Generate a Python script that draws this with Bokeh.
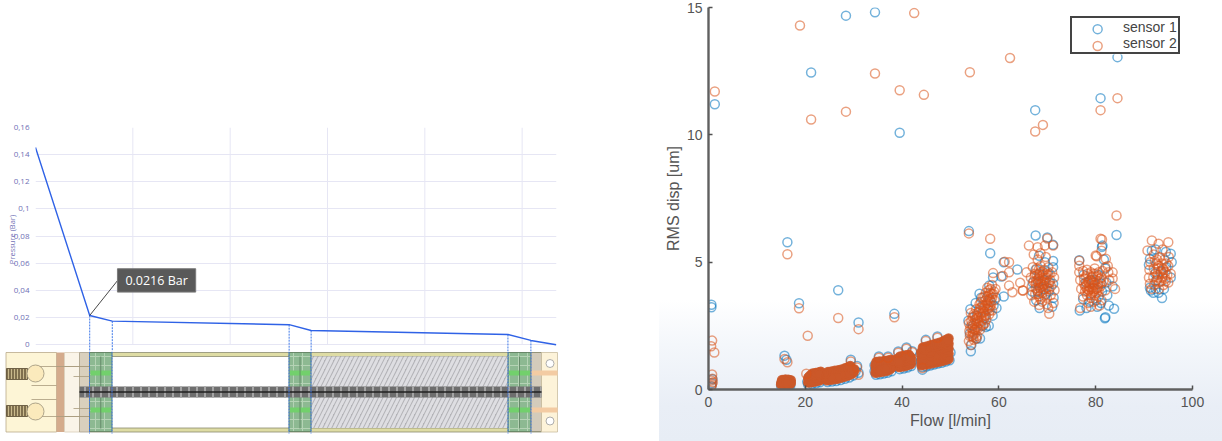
from bokeh.plotting import figure
from bokeh.layouts import row, column
from bokeh.models import Range1d, FixedTicker, Legend, LegendItem
from bokeh.core.properties import value
from bokeh.embed import file_html
from bokeh.resources import INLINE

# ---------- left chart: pressure along the element ----------
position = [0, 55.7, 78.9, 260.6, 283.2, 485.4, 509, 535]
pressure = [0.1453, 0.0216, 0.0174, 0.0148, 0.0105, 0.0076, 0.0032, 0.0]
pressure_ticks = [0, 0.02, 0.04, 0.06, 0.08, 0.1, 0.12, 0.14, 0.16]
pressure_labels = ["0", "0,02", "0,04", "0,06", "0,08", "0,1", "0,12", "0,14", "0,16"]
position_grid = [100, 200, 300, 400, 500]
callout_text = "0.0216 Bar"

# ---------- right chart: sensor readings (flow, disp) ----------
s1_out = [(1.3,11.2),(21.2,12.45),(28.4,14.68),(34.4,14.81),(39.5,10.08),(67.5,10.97),(81,11.44),(84.5,13.05),
          (16.3,5.78),(26.8,3.9),(18.7,3.39),(31,2.63),(38.4,2.97),(0.6,3.33),(0.6,3.23),(15.7,1.33),(16.1,1.17),
          (0.7,0.25),(0.6,0.12),(0.8,0.4),(53.8,6.22),(58.2,5.35),(61,5.0),(63.8,4.71),(60.5,4.44),(58.8,4.4),
          (61,3.65),(29.4,1.17),(30.7,0.92),(31,0.66),(35.2,1.3),(37.1,1.3),(39.2,1.49),(40.9,1.65),(42.1,1.5),
          (44.9,1.95),(47.3,2.08),(44.2,0.78),(84.3,6.07)]
s2_out = [(1.3,11.7),(18.9,14.29),(21.2,10.6),(28.4,10.91),(34.4,12.41),(39.5,11.75),(44.5,11.57),(42.5,14.78),
          (62.3,13.02),(54,12.46),(69.1,10.39),(67.5,10.13),(84.5,11.44),(81,10.97),(84.3,6.83),
          (16.3,5.31),(26.8,2.81),(18.7,3.19),(20.5,2.11),(31,2.37),(38.4,2.84),(0.75,1.92),(0.55,1.7),(1.2,1.45),
          (0.75,0.59),(0.6,0.35),(0.7,0.2),(0.9,0.28),(0.6,0.15),(0.8,0.42),(15.7,1.2),(16.3,1.07),(29.4,1.1),(30.7,0.86),(31,0.58),
          (20.2,0.62),(35.2,1.25),(37.1,1.25),(39.2,1.44),(40.9,1.6),(42.1,1.46),(44.9,1.9),(47.3,2.03),(44.2,0.84),
          (53.8,6.13),(58.2,5.92),(61.2,5.02),(62.1,5.0),(62.1,4.6),(58.8,4.57),(60.8,4.46),(62.1,4.08),(64.4,4.19),
          (62.8,3.82),(65,3.89)]

s2_a = [(15,.2),(15.6,.21),(16.2,.2),(16.9,.21),(15.1,.29),(15.7,.3),(16.3,.31),(16.9,.3),(15.2,.37),(15.9,.39),(16.5,.38),(17,.36),(15.5,.25),(16.6,.26),
        (15.3,.22),(15.9,.24),(16.5,.23),(15.4,.33),(16.1,.35),(16.7,.33),(15.9,.3),(15.1,.25),(17,.26),(16.2,.27)]
s1_a = [(15,.15),(15.8,.14),(16.6,.16),(15.1,.24),(16.9,.16)]
s2_b = [(20.6,.27),(21.2,.28),(21.8,.3),(22.4,.33),(23,.36),(20.7,.38),(21.3,.4),(21.9,.42),(22.5,.45),(23.1,.47),
        (20.8,.5),(21.4,.52),(22,.54),(22.6,.57),(23.2,.6),(21.5,.63),(22.1,.65),(22.7,.67),(23.2,.7),(20.6,.45),(21,.33),(22.2,.37),
        (20.9,.3),(21.5,.34),(22.7,.39),(23.2,.42),(21,.44),(21.6,.46),(22.2,.48),(22.8,.51),(23.3,.53),(21.1,.56),(21.7,.58),(22.3,.6),(22.9,.62)]
s1_b = [(20.6,.2),(21.4,.21),(22.2,.24),(23,.28),(20.4,.3),(23.3,.4)]
s2_c = [(24.5,.36),(25.2,.38),(25.9,.4),(26.6,.42),(27.3,.46),(28,.5),(28.7,.54),(29.4,.6),
        (24.6,.47),(25.3,.49),(26,.51),(26.7,.54),(27.4,.57),(28.1,.61),(28.8,.65),(29.5,.7),
        (24.5,.58),(25.2,.6),(25.9,.62),(26.6,.65),(27.3,.68),(28,.72),(28.7,.76),(29.4,.82),
        (24.7,.69),(25.4,.71),(26.1,.74),(26.8,.76),(27.5,.79),(28.2,.83),(28.9,.88),(29.3,.92),(30,.68),(30.1,.8),(24.9,.42),(26.3,.47),(27.7,.52),
        (25,.53),(25.7,.55),(26.4,.58),(27.1,.61),(27.8,.65),(28.5,.69),(29.2,.74),(24.8,.64),(25.5,.66),(26.2,.68),(26.9,.71),(27.6,.74),(28.3,.78),(29,.81),
        (25.6,.44),(27,.5),(28.4,.57),(29.1,.6),(29.8,.75)]
s1_c = [(24.6,.29),(25.5,.31),(26.4,.33),(27.3,.37),(28.2,.42),(29.1,.47),(29.9,.55),(30.4,.72),(24.3,.5)]
s2_d = [(34.5,.66),(35.1,.68),(35.7,.7),(36.3,.72),(36.9,.74),(37.4,.78),(34.6,.8),(35.2,.82),(35.8,.84),(36.4,.86),(37,.88),(37.5,.9),
        (34.5,.94),(35.1,.96),(35.7,.98),(36.3,1),(36.9,1.02),(37.4,1.04),(34.7,1.08),(35.3,1.1),(35.9,1.1),(36.5,1.12),(37.1,1.14),(37.6,1.16),
        (38,.95),(38.1,1.05),(34.9,.74),(36.1,.78),(37.2,.83),(34.8,.87),(35.4,.89),(36,.91),(36.6,.93),(37.2,.96),(37.8,.85),
        (34.7,1.0),(35.5,1.03),(36.1,1.05),(36.8,1.08),(37.8,1.1),(38.2,1.15),(35.5,.75),(36.7,.8)]
s1_d = [(34.6,.58),(35.4,.6),(36.2,.63),(37,.66),(37.8,.72),(34.3,.72),(34.3,.95),(38.4,.9)]
s2_e = [(39.4,.88),(40,.9),(40.6,.92),(41.2,.96),(41.8,1),(39.5,1.02),(40.1,1.04),(40.7,1.06),(41.3,1.1),(41.8,1.13),
        (39.4,1.16),(40,1.18),(40.6,1.2),(41.2,1.24),(41.8,1.26),(39.6,1.3),(40.2,1.32),(40.8,1.34),(41.4,1.36),(39.2,1.22),(40.4,.98),(41.5,1.05),
        (39.7,.95),(41,1.0),(39.8,1.09),(40.4,1.12),(41,1.15),(41.6,1.18),(39.7,1.23),(40.3,1.25),(40.9,1.27),(41.5,1.3),(39.3,1.08)]
s1_e = [(39.5,.8),(40.3,.82),(41.1,.86),(41.9,.92),(39.1,1.0),(42.1,1.12)]
s2_f = [(44,.95),(44.7,.98),(45.4,1),(46.1,1.03),(46.8,1.06),(47.5,1.09),(48.2,1.12),(48.9,1.16),(49.6,1.2),
        (44,1.13),(44.7,1.16),(45.4,1.19),(46.1,1.22),(46.8,1.25),(47.5,1.28),(48.2,1.32),(48.9,1.36),(49.6,1.4),
        (44,1.3),(44.7,1.33),(45.4,1.37),(46.1,1.4),(46.8,1.44),(47.5,1.47),(48.2,1.51),(48.9,1.55),(49.6,1.6),
        (44,1.47),(44.7,1.51),(45.4,1.55),(46.1,1.58),(46.8,1.62),(47.5,1.66),(48.2,1.7),(48.9,1.74),(49.6,1.8),
        (44.3,1.65),(44.9,1.68),(45.6,1.72),(46.3,1.76),(47,1.8),(47.7,1.84),(48.4,1.88),(49,1.94),(49.6,2.0),
        (45,1.08),(46.5,1.15),(48,1.22),(45.1,1.43),(47.2,1.55),(44.4,1.04),(45.8,1.1),(47.2,1.18),(48.6,1.26),(49.3,1.3),
        (44.4,1.22),(45.8,1.29),(47.2,1.36),(48.6,1.45),(49.3,1.5),(44.4,1.39),(45.8,1.47),(47.9,1.6),(48.6,1.65),(49.3,1.7),
        (44.6,1.58),(45.8,1.65),(46.6,1.7),(47.4,1.75),(48.1,1.79),(48.8,1.84),(49.4,1.9)]
s1_f = [(44.2,.88),(45,.9),(45.8,.94),(46.6,.98),(47.4,1.02),(48.2,1.05),(49,1.1),(49.8,1.15),(43.8,1.1),(43.8,1.4),(50,1.45)]
s2_g = [(53.8,1.9),(54.2,1.75),(54.4,2.1),(54.8,1.95),(53.9,2.3),(54.5,2.4),(55,2.2),(53.8,2.6),(54.3,2.7),(54.9,2.6),(55.4,2.45),(55.5,2.1),
        (54.2,3.0),(54.8,2.95),(55.4,2.8),(55.9,2.6),(56.1,2.35),(55.3,3.15),(55.9,3.05),(56.4,2.85),(56.8,2.55),(56,3.35),(56.6,3.3),(57,3.05),
        (57.4,2.75),(56.6,3.6),(57.2,3.5),(57.7,3.3),(58,2.95),(57.3,3.8),(57.9,3.7),(58.4,3.45),(58.6,3.1),(57.6,4.0),(58.3,3.95),(58.8,3.75),
        (59.1,3.5),(58.6,4.1),(59.3,3.95),(55.1,2.75),(56.3,3.2),(57.5,3.15),(58.1,3.25),(54.6,2.25),
        (54,2.1),(54.7,2.15),(55.2,2.35),(54.1,2.45),(54.6,2.85),(55.7,2.7),(56.3,2.5),(55.6,3.0),(56.2,2.95),(56.9,2.8),(57.1,2.6),(56.3,3.45),(56.9,3.2),(57.5,3.4),(58.1,3.1),(58,3.55),(58.6,3.6),(57.6,3.65),(58.2,3.8),(59,3.85),
        (54.4,2.55),(54.9,2.35),(55.3,2.6),(55,2.9),(55.7,2.4),(55.8,2.85),(56.5,2.7),(56.1,3.2),(56.7,3.0),(57.3,2.9),(57.2,3.3),(57.8,3.15),(57,3.65),(57.7,3.5),(58.3,3.3),(58.5,3.75),(57.9,3.9),(54.7,2.05),(55.3,2.0)]
s1_g = [(54.2,1.5),(54.3,1.75),(54,2.2),(53.7,2.7),(54.6,2.5),(55.4,2.0),(56.1,2.0),(55.5,2.9),(56.7,2.5),(57.3,2.45),(57.9,2.5),(57.2,2.9),
        (58.7,2.9),(58.9,3.3),(59.4,3.6),(58.2,3.5),(56.3,3.6),(55.2,3.4),(54.1,3.15),(56,3.76),(58,4.08),(59.5,3.2),(56.7,3.1),(55,2.35)]
s2_h = [(66.2,5.65),(68,5.59),(69.5,5.65),(70,5.93),(71.2,5.65),(69.7,5.2),(68,5.1),(64.9,3.89),(65.7,4.6),(70.4,2.97),(70.2,3.2),(68.3,3.32),(71.3,3.4),
        (67,4.8),(67.8,4.75),(68.6,4.85),(69.4,4.7),(70.2,4.8),(71,4.6),(66.6,4.4),(67.4,4.45),(68.2,4.35),(69,4.5),(69.8,4.4),(70.6,4.3),(71.4,4.4),
        (66.8,4.05),(67.6,4.15),(68.4,4.0),(69.2,4.1),(70,4.0),(70.8,4.05),(71.5,3.9),(66.7,3.7),(67.5,3.75),(68.3,3.65),(69.1,3.8),(69.9,3.6),(70.7,3.7),
        (67.3,3.45),(68.9,3.45),(69.9,3.35),(68.6,5.35),(67.2,5.3),
        (67.9,4.5),(68.5,4.6),(69.1,4.25),(68,4.3),(68.7,4.15),(69.5,4.2),(67.9,3.9),(68.7,3.85),(69.5,3.95),(70.3,4.2),(67.2,4.25),(68.2,4.7),(69.7,4.55),(68.6,3.55),
        (67.5,4.55),(68.4,4.48),(69.3,4.38),(70.1,4.5),(67.7,4.25),(68.5,4.25),(69,4.02),(69.8,4.15),(67.6,3.98),(68.3,4.1),(70.4,3.95),(68.1,3.75),(69.4,3.7),(69,4.62),(70.5,4.55)]
s1_h = [(67.6,6.05),(70,5.97),(71.2,5.68),(71.2,5.05),(71.2,4.8),(68.3,5.25),(69.5,5.0),(67.6,4.7),(68.4,4.55),(70.1,4.6),(67,4.2),(68.1,4.2),(69.4,4.3),
        (70.5,4.2),(71.2,4.15),(66.9,3.85),(68,3.85),(69.2,3.95),(70.3,3.85),(71.3,3.6),(67.7,3.5),(68.4,3.2),(71,3.25),(69.7,3.75)]
s2_i = [(81,5.92),(80.2,5.23),(76.6,5.06),(76.6,4.86),(81.3,5.89),(80,5.26),(82.1,5.13),(83.5,4.6),(83.5,4.36),(84,3.95),(82,4.8),(76.8,3.2),(79,3.25),(80.8,3.3),
        (76.6,4.6),(77.4,4.65),(78.2,4.7),(79,4.6),(79.8,4.75),(80.6,4.6),(81.4,4.65),(82.6,4.6),(76.8,4.3),(77.6,4.35),(78.4,4.25),(79.2,4.4),(80,4.3),(80.8,4.35),(81.6,4.25),(82.8,4.3),
        (77,3.95),(77.8,4.05),(78.6,3.9),(79.4,4.0),(80.2,3.95),(81,4.05),(82,3.9),(77.4,3.65),(78.2,3.7),(79,3.6),(79.8,3.7),(80.6,3.65),(81.2,3.5),(78.5,3.4),(79.7,3.45),(82.5,4.85),(81.2,5.45),
        (78,4.45),(78.8,4.3),(79.5,4.55),(80.3,4.45),(78,4.1),(78.9,4.15),(79.7,4.1),(80.5,4.15),(78.4,3.85),(79.3,3.8),(80.2,3.8),(77.8,3.85),(81.2,4.4),
        (78.3,4.55),(78.7,4.02),(79.2,4.2),(79.4,4.45),(79.9,3.95),(80.1,4.55),(78.2,3.95),(78.6,4.2),(79.1,3.95),(79.6,3.85),(80.4,4.0),(80.9,4.2),(77.6,4.15),(79,3.7),(80.6,3.9)]
s1_i = [(81.4,5.65),(81.3,5.6),(81.7,5.1),(76.6,5.08),(82,4.75),(76.7,3.1),(78.1,3.2),(80.3,3.25),(82,2.84),(81.9,2.8),(83.8,3.17),(83.5,4.05),(82.7,3.3),
        (77.4,3.55),(78.7,3.45),(80.1,3.5),(81.1,3.4),(82.4,3.7),(78,4.2),(79.6,4.2),(81.2,4.15),(77.5,4.5),(79.1,4.3),(80.5,4.5),(82.2,4.2),(81.3,3.85)]
s2_j = [(91.6,5.85),(93,5.72),(95,5.78),(90.7,5.46),(93.8,5.5),(92,5.3),(91.3,5.0),(92.2,5.05),(93.2,5.2),(94.2,5.1),(95.1,5.2),(91.1,4.7),(92,4.75),(93,4.85),(94,4.7),(95,4.85),
        (95.5,4.55),(91,4.4),(91.9,4.4),(92.8,4.5),(93.8,4.4),(94.8,4.5),(91.2,4.15),(92.1,4.1),(93.1,4.2),(94,4.1),(95,4.2),(91.5,3.95),(93.1,3.95),(94.4,4.35),
        (92.5,4.95),(93.6,4.95),(94.6,4.95),(92.4,4.6),(93.4,4.6),(94.4,4.6),(92.4,4.25),(93.5,4.25),(94.5,4.25),(93,4.75),(93.9,4.75),(92.9,4.4),(93.9,4.55),(92.7,5.1)]
s1_j = [(91.2,5.13),(95.5,5.33),(91.6,5.45),(95.7,5.0),(92.4,5.5),(94.5,5.4),(91.4,3.89),(91.9,3.8),(93.7,3.59),(93,3.8),(91,4.9),(92.3,4.55),(93.5,4.65),(94.6,4.8),(92.6,4.3),(94.1,3.95),(95.5,4.4),(91.2,4.0),(92.4,3.95)]

sensor1 = s1_out + s1_a + s1_b + s1_c + s1_d + s1_e + s1_f + s1_g + s1_h + s1_i + s1_j
sensor2_open = s2_out + s2_g + s2_h + s2_i + s2_j
sensor2_dense = s2_a + s2_b + s2_c + s2_d + s2_e + s2_f
flow1, disp1 = [list(v) for v in zip(*sensor1)]
flow2, disp2 = [list(v) for v in zip(*sensor2_open)]
flow2d, disp2d = [list(v) for v in zip(*sensor2_dense)]
flow_ticks = [0, 20, 40, 60, 80, 100]
disp_ticks = [0, 5, 10, 15]

# ---------- left: pressure chart ----------
SANS = "Liberation Sans"
LINE = "#2f62e6"
GRID = "#e6e6f4"
p1 = figure(width=659, height=351, output_backend="svg", toolbar_location=None,
            x_range=Range1d(0, 535.3), y_range=Range1d(-0.00494, 0.16),
            min_border_left=35, min_border_right=103, min_border_top=127, min_border_bottom=0,
            frame_align=False)
p1.outline_line_color = None
p1.xaxis.visible = False
p1.xgrid.visible = False
p1.ygrid.ticker = FixedTicker(ticks=pressure_ticks)
p1.ygrid.grid_line_color = GRID
p1.ygrid.grid_line_width = 1
ya = p1.yaxis[0]
ya.ticker = FixedTicker(ticks=pressure_ticks)
ya.major_label_overrides = dict(zip(pressure_ticks, pressure_labels))
ya.axis_line_color = None
ya.major_tick_line_color = None
ya.major_tick_in = 0
ya.major_tick_out = 0
ya.minor_tick_line_color = None
ya.minor_tick_out = 0
ya.major_label_text_color = "#6f6fb5"
ya.major_label_text_font = "Open Sans"
ya.major_label_text_font_size = "8px"
ya.major_label_standoff = 6
ya.axis_label = "Pressure (Bar)"
ya.axis_label_text_color = "#6f6fb5"
ya.axis_label_text_font = "Open Sans"
ya.axis_label_text_font_size = "7.5px"
ya.axis_label_text_font_style = "normal"
ya.axis_label_standoff = -6
p1.segment(x0=position_grid, y0=[0]*5, x1=position_grid, y1=[0.16]*5, line_color=GRID, line_width=1)
p1.segment(x0=position[1:7], y0=pressure[1:7], x1=position[1:7], y1=[-0.00494]*6,
           line_color="#3f78e8", line_width=1, line_dash="2 1")
p1.line(position, pressure, line_color=LINE, line_width=1.4)
p1.segment(x0=[position[1]], y0=[pressure[1]], x1=[84.2], y1=[0.0472], line_color="#333333", line_width=0.9)
p1.quad(left=[84.2], right=[164.6], bottom=[0.0388], top=[0.056], fill_color="#595959", line_color="#7a7a7a", line_width=1)
p1.text(x=[124.4], y=[0.0472], text=[callout_text], text_color="#ffffff", text_align="center",
        text_baseline="middle", text_font=value("Open Sans"), text_font_size="12.5px")

# ---------- left: drawing of the element under the chart ----------
p0 = figure(width=659, height=90, output_backend="svg", toolbar_location=None,
            x_range=Range1d(0, 659), y_range=Range1d(441, 351),
            min_border_left=0, min_border_right=0, min_border_top=0, min_border_bottom=0,
            frame_align=False)
p0.axis.visible = False
p0.grid.visible = False
p0.outline_line_color = None

def block(l, r, b, t, color, line=None, **kw):
    p0.quad(left=[l], right=[r], bottom=[b], top=[t], fill_color=color,
            line_color=line, line_width=0.8, **kw)

block(5.5, 56, 431.5, 352, "#fdf5d6", "#b9a98a")
block(56, 64, 431.5, 352, "#d4ab8c")
block(64, 79, 431.5, 352, "#faf4e8", "#d8cdb8")
block(79, 89, 431.5, 352, "#d9d0bd", "#a89f8a")
for top_y, bot_y in [(368, 379), (405, 416)]:
    block(6, 27, bot_y, top_y, "#7f6f4e", "#5a4d33", hatch_pattern="vertical_line", hatch_color="#c9b98c", hatch_scale=3, hatch_weight=1)
p0.segment(x0=[35, 35, 31, 31, 64, 64, 73, 73], y0=[366, 416, 385, 399, 366, 416, 376, 408],
           x1=[89, 89, 56, 56, 89, 89, 89, 89], y1=[366, 416, 385, 399, 366, 416, 376, 408], line_color="#a89a7c", line_width=0.8)
p0.scatter(x=[35, 35], y=[373, 411], size=17, fill_color="#fbeabc", line_color="#999078", line_width=0.8)

block(89, 541, 356, 352, "#dedca4", "#8a8a70")
block(89, 541, 431.5, 427.5, "#dedca4", "#8a8a70")
block(310.5, 507.5, 427.5, 356, "#b3b3b7", None, hatch_pattern="right_diagonal_line",
      hatch_color="#dedee2", hatch_scale=9, hatch_weight=3)
for l, r in [(89, 111.5), (288.5, 310.5), (507.5, 530.5)]:
    block(l, r, 431, 352, "#8db992", "#5c7d60", hatch_pattern="cross", hatch_color="#b5d3b5", hatch_scale=9, hatch_weight=1)
    for y0, y1 in [(370, 375), (407, 412)]:
        block(l + 1, r - 1, y1, y0, "#72d06c")
    p0.segment(x0=[(l + r) / 2], y0=[356], x1=[(l + r) / 2], y1=[428], line_color="#5c7d60", line_width=0.8)
block(530.5, 541, 431, 352, "#d3cbbb", "#8a8a70")
block(541, 557, 431.5, 352, "#fdf3d9", "#c9bca0")
for y0, y1 in [(370, 375), (407, 412)]:
    block(531, 557, y1, y0, "#f3cba3")
p0.scatter(x=[549.5, 549.5], y=[363, 420.5], size=8, fill_color="#ffffff", line_color="#999999", line_width=0.8)
block(79, 541, 397, 386, "#6e6e6e", None, hatch_pattern="vertical_line", hatch_color="#a5a5a5", hatch_scale=8, hatch_weight=2)
p0.segment(x0=[79], y0=[391.5], x1=[541], y1=[391.5], line_color="#222222", line_width=1.6)
p0.segment(x0=[89, 111.5, 288.5, 310.5, 507.5, 530.5], y0=[351]*6, x1=[89, 111.5, 288.5, 310.5, 507.5, 530.5], y1=[433]*6,
           line_color="#3f78e8", line_width=1, line_dash="2 1")

# ---------- right: scatter ----------
TEXT = "#555555"
BLUE = "#0072BD"
ORANGE = "#D95319"
p2 = figure(width=563, height=441, output_backend="svg", toolbar_location=None,
            x_range=Range1d(0, 100), y_range=Range1d(0, 15),
            min_border_left=49, min_border_right=30, min_border_top=7, min_border_bottom=52,
            border_fill_alpha=0, background_fill_alpha=0, frame_align=False,
            styles={"background": "linear-gradient(to bottom, #ffffff 0%, #ffffff 68%, #f4f7fb 78%, #e9eef6 92%, #e7edf5 100%)"})
p2.outline_line_color = None
p2.grid.visible = False
for ax, ticks, label in [(p2.xaxis[0], flow_ticks, "Flow [l/min]"), (p2.yaxis[0], disp_ticks, "RMS disp [um]")]:
    ax.ticker = FixedTicker(ticks=ticks)
    ax.axis_line_color = "#606060"
    ax.axis_line_width = 2.4
    ax.major_tick_line_color = "#505050"
    ax.major_tick_line_width = 1.5
    ax.major_tick_in = 4
    ax.major_tick_out = 0
    ax.minor_tick_line_color = None
    ax.major_label_text_color = TEXT
    ax.major_label_text_font = SANS
    ax.major_label_text_font_size = "14px"
    ax.axis_label = label
    ax.axis_label_text_color = TEXT
    ax.axis_label_text_font = SANS
    ax.axis_label_text_font_size = "16px"
    ax.axis_label_text_font_style = "normal"
p2.xaxis[0].major_label_standoff = 7
p2.xaxis[0].axis_label_standoff = 2
p2.yaxis[0].major_label_standoff = 6
p2.yaxis[0].axis_label_standoff = 2

p2.scatter(flow1, disp1, marker="circle", size=9, fill_color=None, line_color=BLUE, line_alpha=0.55, line_width=1.5)
p2.scatter(flow2d, disp2d, marker="circle", size=9, fill_color="#CB5829", fill_alpha=1, line_color="#CB5829", line_alpha=0.85, line_width=1.5)
p2.scatter(flow2, disp2, marker="circle", size=9, fill_color=None, line_color=ORANGE, line_alpha=0.55, line_width=1.5)

# Legend: Bokeh shrinks marker glyphs inside a 16px row, so the panel and keys are drawn beneath a transparent Legend.
key_flow = [80.4, 80.4]
key_disp = [14.15, 13.49]
p2.quad(left=[75], right=[97.4], bottom=[13.15], top=[14.53], fill_color="#ffffff", line_color=None)
k1 = p2.scatter(key_flow[:1], key_disp[:1], marker="circle", size=9, fill_color=None, line_color=BLUE, line_alpha=0.55, line_width=1.5)
k2 = p2.scatter(key_flow[1:], key_disp[1:], marker="circle", size=9, fill_color=None, line_color=ORANGE, line_alpha=0.55, line_width=1.5)
k0a = p2.scatter([], [], marker="circle", size=9, fill_color=None, line_color=None)
k0b = p2.scatter([], [], marker="circle", size=9, fill_color=None, line_color=None)
legend = Legend(items=[LegendItem(label="sensor 1", renderers=[k0a]), LegendItem(label="sensor 2", renderers=[k0b])],
                location=(362, 335), padding=1, spacing=0, margin=0, glyph_width=48, glyph_height=16, label_height=16,
                label_standoff=2, label_text_font=SANS, label_text_font_size="14px", label_text_color="#444444",
                border_line_color="#444444", border_line_width=2, border_line_alpha=1,
                background_fill_alpha=0)
p2.add_layout(legend)

page = row(column(p1, p0, spacing=0), p2, spacing=0)
open("out.html", "w").write(file_html(page, INLINE))
